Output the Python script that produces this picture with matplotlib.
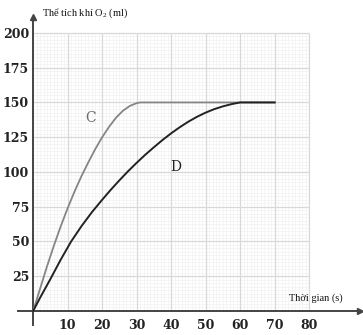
import matplotlib
matplotlib.use("Agg")
import matplotlib.pyplot as plt
import numpy as np

# curve C (fast) and curve D (slow): time (s) -> O2 volume (ml)
c_time = [0, 2, 4, 6, 8, 10, 12, 14, 16, 18, 20, 22, 24, 26, 28, 30, 31, 70]
c_vol = [0, 16, 32, 47, 61, 74, 86, 97, 107, 116.5, 125, 132.5, 139, 144, 147.5, 149.5, 150, 150]
d_time = [0, 2, 5, 8, 11, 14, 17, 20, 22.5, 25, 27.5, 30, 32.5, 35, 37.5, 40,
          42.5, 45, 47.5, 50, 52.5, 55, 57.5, 60, 70]
d_vol = [0, 9.5, 23, 37, 50, 61, 71, 80, 87.2, 94, 100.5, 106.6, 112.4, 117.8, 123, 127.8,
         132.2, 136.2, 139.7, 142.7, 145.2, 147.2, 148.8, 150, 150]

x_ticks = [10, 20, 30, 40, 50, 60, 70, 80]
y_ticks = [25, 50, 75, 100, 125, 150, 175, 200]

fig = plt.figure(figsize=(3.63, 3.35), dpi=100)
ax = fig.add_axes([0, 0, 1, 1])
ax.set_xlim(-9.62, 95.6)
ax.set_ylim(-17.3, 223.7)

# grid only inside 0..80 x 0..200
ax.vlines(np.arange(0, 80.1, 1), 0, 200, color="#f2f2f2", lw=0.5, zorder=0)
ax.hlines(np.arange(0, 200.1, 2.5), 0, 80, color="#f2f2f2", lw=0.5, zorder=0)
ax.vlines(x_ticks, 0, 200, color="#d8d8d8", lw=0.9, zorder=1)
ax.hlines(y_ticks, 0, 80, color="#d8d8d8", lw=0.9, zorder=1)

ax.plot(c_time, c_vol, color="#858585", lw=1.3, zorder=3, solid_joinstyle="round")
ax.plot(d_time, d_vol, color="#222222", lw=1.4, zorder=3, solid_joinstyle="round")
ax.text(16.5, 139, "C", color="#6a6a6a", fontsize=10, family="DejaVu Serif",
        ha="center", va="center")
ax.text(41.4, 103.4, "D", color="#222222", fontsize=10, family="DejaVu Serif",
        ha="center", va="center")

# axes through the origin, with arrows
for s in ["top", "right"]:
    ax.spines[s].set_visible(False)
ax.spines["left"].set_position(("data", 0))
ax.spines["bottom"].set_position(("data", 0))
ax.spines["left"].set_bounds(-10, 211)
ax.spines["bottom"].set_bounds(-4.4, 94.5)
for s in ["left", "bottom"]:
    ax.spines[s].set_color("#444444")
    ax.spines[s].set_linewidth(1.4)
ax.plot(94.7, 0, ">", color="#444444", ms=4.5, clip_on=False)
ax.plot(0, 211.5, "^", color="#444444", ms=4.5, clip_on=False)

ax.set_xticks(x_ticks)
ax.set_yticks(y_ticks)
ax.set_xticklabels([str(v) for v in x_ticks], family="DejaVu Serif", fontsize=9, weight="bold")
ax.set_yticklabels([str(v) for v in y_ticks], family="DejaVu Serif", fontsize=9, weight="bold")
ax.tick_params(length=0, colors="#222222")
ax.tick_params(axis="x", pad=6)
ax.tick_params(axis="y", pad=3)

ax.text(2.5, 214.5, r"Thể tích khí O$_\mathregular{2}$ (ml)", family="Liberation Serif",
        fontsize=7.5, ha="left", va="center", color="#111111")
ax.text(74.2, 9.4, "Thời gian (s)", family="Liberation Serif", fontsize=7.5,
        ha="left", va="center", color="#111111")

fig.savefig("out.png", dpi=100)
